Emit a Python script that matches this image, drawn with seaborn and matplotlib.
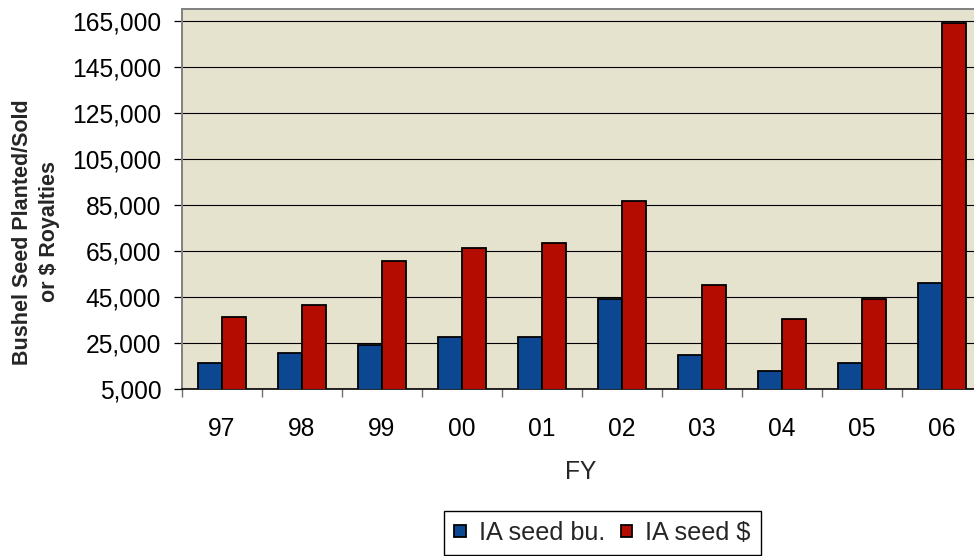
import numpy as np
import pandas as pd
import matplotlib
matplotlib.use("Agg")
import matplotlib.pyplot as plt
import seaborn as sns
from matplotlib.ticker import FuncFormatter, FixedLocator

# ---- data ----
years = ["97", "98", "99", "00", "01", "02", "03", "04", "05", "06"]
seed_bu = [16200, 20600, 24000, 27500, 27500, 44100, 19600, 12800, 16300, 50900]
seed_usd = [36200, 41500, 60500, 66400, 68300, 86600, 50100, 35300, 44000, 164000]
series_names = ["IA seed bu.", "IA seed $"]
y_ticks = [5000, 25000, 45000, 65000, 85000, 105000, 125000, 145000, 165000]

df = pd.DataFrame({
    "FY": years * 2,
    "value": seed_bu + seed_usd,
    "series": [series_names[0]] * len(years) + [series_names[1]] * len(years),
})

sns.set_theme(style="white")
plt.rcParams["font.family"] = ["Liberation Sans", "DejaVu Sans"]

W, H = 974, 556
fig = plt.figure(figsize=(W / 100, H / 100), dpi=100)
left_px, right_px, top_px, bottom_px = 181.7, 981.7, 9.3, 389
ax = fig.add_axes([left_px / W, (H - bottom_px) / H,
                   (right_px - left_px) / W, (bottom_px - top_px) / H])

bg = "#E5E2CE"
ax.set_facecolor(bg)
palette = {series_names[0]: "#0B4891", series_names[1]: "#B40C00"}

sns.barplot(data=df, x="FY", y="value", hue="series", order=years,
            hue_order=series_names, palette=palette, width=0.6,
            edgecolor="black", linewidth=1.3, saturation=1, ax=ax, zorder=3)

ax.set_xlim(-0.5, len(years) - 0.5)
ax.set_ylim(5000, 170000)
ax.yaxis.set_major_locator(FixedLocator(y_ticks))
ax.yaxis.set_major_formatter(FuncFormatter(lambda v, p: f"{int(v):,}"))
ax.grid(axis="y", color="black", linewidth=0.8, zorder=1)
ax.set_axisbelow(True)

ax.tick_params(axis="y", which="major", direction="out", length=5.8, width=0.9,
               color="black", pad=9, labelsize=17.7, labelcolor="black", left=True)
ax.tick_params(axis="x", which="major", length=0, pad=20.5, labelsize=17.7,
               labelcolor="black")
ax.set_xticks(np.arange(-0.5, len(years), 1.0), minor=True)
ax.tick_params(axis="x", which="minor", direction="out", length=5.8, width=1.0,
               color="#707070", bottom=True)

for s in ["left", "top", "right"]:
    ax.spines[s].set_color("#808080")
    ax.spines[s].set_linewidth(1.4)
ax.spines["bottom"].set_color("black")
ax.spines["bottom"].set_linewidth(1.2)

ax.set_xlabel("")
ax.set_ylabel("")
fig.text(581 / W, (H - 472) / H, "FY", ha="center", va="center", fontsize=17.7)
fig.text(36 / W, (H - 232) / H, "Bushel Seed Planted/Sold\nor $ Royalties",
         rotation=90, ha="center", va="center", multialignment="center",
         fontsize=15.5, fontweight="bold", linespacing=1.4)

handles, labels = ax.get_legend_handles_labels()
if ax.legend_:
    ax.legend_.remove()
leg = fig.legend(handles, labels, loc="center",
                 bbox_to_anchor=(602.5 / W, (H - 533) / H), ncol=2,
                 fontsize=18.2, frameon=True, fancybox=False, framealpha=1,
                 edgecolor="black", facecolor="white",
                 handlelength=0.46, handleheight=0.33, handletextpad=0.52,
                 columnspacing=0.6, borderpad=0.4, borderaxespad=0)
leg.get_frame().set_linewidth(1.0)

fig.savefig("out.png", dpi=100, facecolor="white")
